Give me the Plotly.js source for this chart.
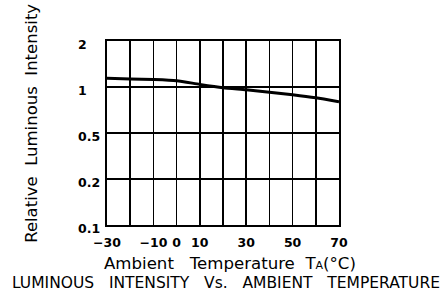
<!DOCTYPE html>
<html>
<head>
<meta charset="utf-8">
<script src="https://cdn.plot.ly/plotly-3.0.1.min.js"></script>
<style>html,body{margin:0;padding:0;background:#fff;}#chart{width:442px;height:295px;}</style>
</head>
<body>
<div id="chart"></div>
<script>
// Data
const temperature = [-30, -20, -10, 0, 10, 20, 30, 40, 50, 60, 70];
const relIntensity = [1.14, 1.13, 1.12, 1.10, 1.04, 0.99, 0.96, 0.925, 0.89, 0.85, 0.80];
const yTickValues = [0.1, 0.2, 0.5, 1, 2];
const yTickLabels = ['0.1', '0.2', '0.5', '1', '2'];
const xTickValues = [-30, -10, 0, 10, 30, 50, 70];
const xTickLabels = ['\u221230', '\u221210', '0', '10', '30', '50', '70'];

// The chart's vertical scale puts its tick values at equal steps;
// between two ticks it is logarithmic.
function yPos(v) {
  for (let i = 0; i < yTickValues.length - 1; i++) {
    const a = yTickValues[i], b = yTickValues[i + 1];
    if (v <= b || i === yTickValues.length - 2) {
      return i + Math.log(v / a) / Math.log(b / a);
    }
  }
}

const NB = '\u00a0';
const tickFont = {family: 'DejaVu Sans', size: 12.5, color: '#000', weight: 'bold'};

const annotations = yTickValues.map((v, i) => ({
  text: '<b>' + yTickLabels[i] + '</b>',
  xref: 'paper', yref: 'y', x: -0.135, y: yPos(v), yshift: -3.5,
  xanchor: 'left', yanchor: 'middle', showarrow: false,
  font: {family: 'DejaVu Sans', size: 12.5, color: '#000'}
}));
annotations.push({
  text: 'Relative' + NB + NB + 'Luminous' + NB + NB + 'Intensity',
  xref: 'paper', yref: 'paper', x: -0.325, y: 0.553, textangle: -90,
  xanchor: 'center', yanchor: 'middle', showarrow: false,
  font: {family: 'DejaVu Sans', size: 16.5, color: '#000'}
});
annotations.push({
  text: 'Ambient' + NB + NB + NB + 'Temperature' + NB + NB + 'T<span style="font-size:11px">A</span>(\u00b0C)',
  xref: 'paper', yref: 'paper', x: (229.5 - 107) / 232, y: (225.5 - 264) / 184.5,
  xanchor: 'center', yanchor: 'middle', showarrow: false,
  font: {family: 'DejaVu Sans', size: 16.6, color: '#000'}
});
annotations.push({
  text: 'LUMINOUS' + NB + NB + NB + 'INTENSITY' + NB + NB + NB + 'Vs.' + NB + NB + NB + 'AMBIENT' + NB + NB + NB + 'TEMPERATURE',
  xref: 'paper', yref: 'paper', x: (225.5 - 107) / 232, y: (225.5 - 283.5) / 184.5,
  xanchor: 'center', yanchor: 'middle', showarrow: false,
  font: {family: 'DejaVu Sans', size: 15.5, color: '#000'}
});

const trace = {
  x: temperature,
  y: relIntensity.map(yPos),
  type: 'scatter',
  mode: 'lines',
  line: {color: '#000', width: 3, shape: 'spline', smoothing: 0.6},
  hoverinfo: 'skip'
};

const layout = {
  width: 442, height: 295,
  margin: {l: 107, r: 103, t: 41, b: 69.5, pad: 0},
  paper_bgcolor: '#fff', plot_bgcolor: '#fff',
  showlegend: false,
  xaxis: {
    range: [-30, 70],
    tickmode: 'array', tickvals: xTickValues, ticktext: xTickLabels,
    tickfont: tickFont, ticks: '', ticklabelstandoff: 5,
    showgrid: true, gridcolor: '#000', gridwidth: 1.5,
    minor: {tick0: -30, dtick: 10, showgrid: true, gridcolor: '#000', gridwidth: 1.5, ticks: ''},
    showline: true, linecolor: '#000', linewidth: 2, mirror: true,
    zeroline: false, fixedrange: true
  },
  yaxis: {
    range: [0, 4],
    tickmode: 'array', tickvals: yTickValues.map(yPos), ticktext: yTickLabels,
    showticklabels: false, ticks: '',
    showgrid: true, gridcolor: '#000', gridwidth: 1.5,
    showline: true, linecolor: '#000', linewidth: 2, mirror: true,
    zeroline: false, fixedrange: true
  },
  annotations: annotations
};

Plotly.newPlot('chart', [trace], layout, {staticPlot: true, displayModeBar: false});
</script>
</body>
</html>
